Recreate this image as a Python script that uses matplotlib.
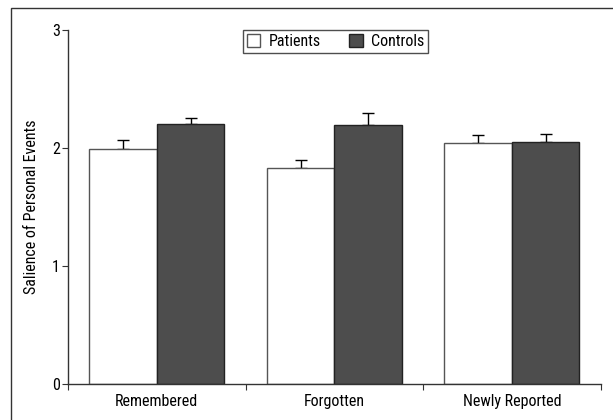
import numpy as np
import matplotlib.pyplot as plt
from matplotlib.patches import Rectangle

categories = ['Remembered', 'Forgotten', 'Newly Reported']
patients = [1.99, 1.83, 2.04]
patients_se = [0.075, 0.07, 0.068]
controls = [2.20, 2.195, 2.055]
controls_se = [0.05, 0.105, 0.063]

plt.rcParams['font.family'] = ['Roboto Condensed', 'DejaVu Sans']

fig = plt.figure(figsize=(6.13, 4.2), dpi=100)
ax = fig.add_axes([0.111, 0.0857, 0.869, 0.8429])

# frame around the whole figure
fig.patches.append(Rectangle((11 / 613, -0.05), 1.1, 1 - 8 / 420 + 0.05,
                             transform=fig.transFigure, fill=False,
                             edgecolor='#333333', linewidth=1))

x = np.arange(len(categories)) + 0.5
w = 0.38

ax.bar(x - w / 2, patients, w, color='white', edgecolor='#555555',
       linewidth=1, label='Patients', zorder=2)
ax.bar(x + w / 2, controls, w, color='#4d4d4d', edgecolor='#222222',
       linewidth=1, label='Controls', zorder=2)

ax.errorbar(x - w / 2, patients, yerr=[np.zeros(3), patients_se], fmt='none',
            ecolor='black', elinewidth=1, capsize=4.5, capthick=1, zorder=1)
ax.errorbar(x + w / 2, controls, yerr=[np.zeros(3), controls_se], fmt='none',
            ecolor='black', elinewidth=1, capsize=4.5, capthick=1, zorder=1)

ax.set_xlim(0, 3)
ax.set_ylim(0, 3)
ax.set_yticks([0, 1, 2, 3])
ax.set_xticks([0, 1, 2, 3])
ax.set_xticklabels([])
ax.set_xticks(x, minor=True)
ax.set_xticklabels(categories, minor=True, fontsize=11.5)
ax.tick_params(axis='x', which='minor', length=0, pad=7)
ax.tick_params(axis='x', which='major', length=4, direction='out', color='#333333')
ax.tick_params(axis='y', length=4, direction='out', labelsize=11.5, pad=2, color='#333333')

for s in ['top', 'right']:
    ax.spines[s].set_visible(False)
for s in ['left', 'bottom']:
    ax.spines[s].set_color('#333333')
    ax.spines[s].set_linewidth(1)

ax.set_ylabel('Salience of Personal Events', fontsize=11.5, labelpad=9)

leg = ax.legend(loc='upper center', bbox_to_anchor=(0.502, 1.0), ncol=2,
                fontsize=11.5, frameon=True, fancybox=False,
                handlelength=0.85, handleheight=0.85, handletextpad=0.5,
                columnspacing=1.8, borderpad=0.25, borderaxespad=0)
leg.get_frame().set_edgecolor('#222222')
leg.get_frame().set_linewidth(1)
for h in leg.legend_handles:
    h.set_linewidth(1)

fig.savefig('out.png', dpi=100)
